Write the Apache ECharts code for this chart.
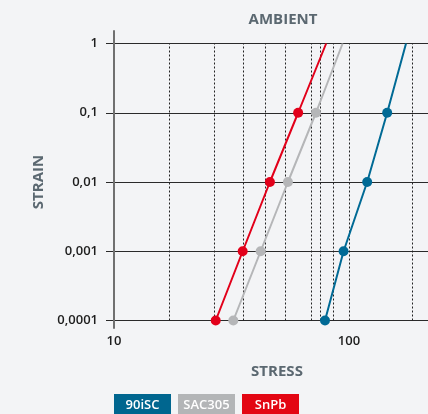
<!DOCTYPE html>
<html>
<head>
<meta charset="utf-8">
<script src="https://cdn.jsdelivr.net/npm/echarts@6/dist/echarts.min.js"></script>
<style>
html,body{margin:0;padding:0;background:#f3f4f6;}
#chart{width:428px;height:414px;}
</style>
</head>
<body>
<div id="chart"></div>
<script>
// ---- data ----
const strainLevels = [0.0001, 0.001, 0.01, 0.1, 1];
const stress90iSC  = [79.1, 94.9, 119.6, 145.5, 175];
const stressSAC305 = [32.2, 42.1, 55.0, 72.4, 94];
const stressSnPb   = [27.1, 35.3, 46.1, 60.8, 80];
const guideStress  = [17.2, 26.6, 35.5, 44.2, 53.8, 68.9, 75.6, 85.8, 100, 186];
const yTickLabels  = ['0,0001', '0,001', '0,01', '0,1', '1'];
const seriesNames  = ['90iSC', 'SAC305', 'SnPb'];
const seriesColors = ['#006a95', '#b5b6b8', '#e2001a'];
const legendColors = ['#00668f', '#b3b5b7', '#e30613'];

const FONT = '"Open Sans", "Noto Sans", sans-serif';
const TITLE_COLOR = '#5b6871';

function buildSeries(name, stress, color) {
  return {
    name: name,
    type: 'line',
    xAxisIndex: 0, yAxisIndex: 0,
    z: 5,
    symbol: 'circle',
    symbolSize: 10,
    lineStyle: { color: color, width: 2 },
    itemStyle: { color: color },
    data: stress.map((s, i) => {
      const item = { value: [s, strainLevels[i]] };
      if (i === stress.length - 1) item.symbol = 'none';
      return item;
    })
  };
}

const chart = echarts.init(document.getElementById('chart'), null, { renderer: 'canvas' });
const rich = {};
seriesNames.forEach((n, i) => {
  rich['b' + i] = {
    backgroundColor: legendColors[i], color: '#ffffff',
    width: 57, height: 22, lineHeight: 22, align: 'center',
    fontSize: 13, fontFamily: FONT, fontWeight: 600
  };
});

chart.setOption({
  backgroundColor: '#f3f4f6',
  animation: false,
  title: [
    { text: 'AMBIENT', left: 283, top: 12, textAlign: 'center', padding: 0,
      textStyle: { fontFamily: FONT, fontSize: 15, fontWeight: 'bold', color: TITLE_COLOR } },
    { text: 'STRESS', left: 277, top: 364, textAlign: 'center', padding: 0,
      textStyle: { fontFamily: FONT, fontSize: 15, fontWeight: 'bold', color: TITLE_COLOR } }
  ],
  legend: {
    data: seriesNames,
    left: 108, top: 394,
    itemWidth: 0, itemHeight: 0, itemGap: 1,
    padding: 0,
    itemStyle: { opacity: 0 }, lineStyle: { opacity: 0 },
    selectedMode: false,
    formatter: function (name) { return '{b' + seriesNames.indexOf(name) + '|' + name + '}'; },
    textStyle: { rich: rich }
  },
  grid: [
    { left: 114, top: 43.5, width: 347, height: 277, outerBoundsMode: 'none', containLabel: false },
    { left: 114, top: 31, width: 10, height: 297, outerBoundsMode: 'none', containLabel: false }
  ],
  xAxis: [
    {
      type: 'log', gridIndex: 0, min: 10, max: 300,
      axisLine: { show: false },
      axisTick: { show: false },
      splitLine: { show: false },
      minorTick: { show: false },
      axisLabel: { margin: 14, fontFamily: FONT, fontSize: 13, fontWeight: 600, color: '#1d1d1d' }
    },
    { type: 'value', gridIndex: 1, show: false }
  ],
  yAxis: [
    {
      type: 'log', gridIndex: 0, min: 0.0001, max: 1,
      name: 'STRAIN', nameLocation: 'middle', nameGap: 66, nameRotate: 90,
      nameTextStyle: { fontFamily: FONT, fontSize: 15, fontWeight: 'bold', color: TITLE_COLOR },
      axisLine: { show: false },
      axisTick: { show: true, length: 8, lineStyle: { color: '#2a2a2a', width: 1 } },
      splitLine: { show: true, lineStyle: { color: '#2a2a2a', width: 1 } },
      axisLabel: {
        margin: 16, fontFamily: FONT, fontSize: 13, fontWeight: 600, color: '#1d1d1d',
        formatter: function (v, idx) { return yTickLabels[idx]; }
      }
    },
    {
      type: 'value', gridIndex: 1, min: 0, max: 1,
      axisLine: { show: true, lineStyle: { color: '#707070', width: 2 } },
      axisTick: { show: false }, axisLabel: { show: false }, splitLine: { show: false },
      z: 10
    }
  ],
  series: [
    {
      name: 'guides', type: 'line', xAxisIndex: 0, yAxisIndex: 0, data: [], z: 1,
      markLine: {
        silent: true, symbol: 'none', animation: false,
        label: { show: false },
        lineStyle: { type: [2, 2], color: '#222222', width: 1 },
        data: guideStress.map(v => ({ xAxis: v }))
      }
    },
    buildSeries(seriesNames[0], stress90iSC, seriesColors[0]),
    buildSeries(seriesNames[1], stressSAC305, seriesColors[1]),
    buildSeries(seriesNames[2], stressSnPb, seriesColors[2])
  ]
});
</script>
</body>
</html>
